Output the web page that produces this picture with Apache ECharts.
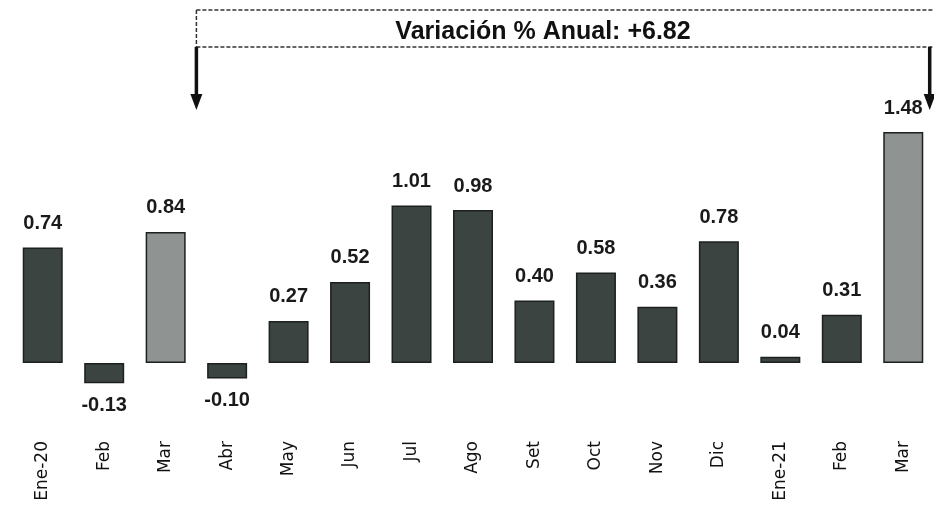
<!DOCTYPE html>
<html>
<head>
<meta charset="utf-8">
<script src="https://cdn.jsdelivr.net/npm/echarts@6/dist/echarts.min.js"></script>
<style>
  html, body { margin: 0; padding: 0; background: #fff; }
  #chart { width: 934px; height: 511px; }
</style>
</head>
<body>
<div id="chart"></div>
<script>
// meses
const months = ['Ene-20', 'Feb', 'Mar', 'Abr', 'May', 'Jun', 'Jul', 'Ago', 'Set', 'Oct', 'Nov', 'Dic', 'Ene-21', 'Feb', 'Mar'];
// variacion % mensual
const values = [0.74, -0.13, 0.84, -0.10, 0.27, 0.52, 1.01, 0.98, 0.40, 0.58, 0.36, 0.78, 0.04, 0.31, 1.48];
// meses de marzo en gris claro
const highlight = [2, 14];
const annualText = 'Variación % Anual: +6.82';

const dark = '#3c4442';
const light = '#8f9492';

const chart = echarts.init(document.getElementById('chart'));

const barData = values.map((v, i) => ({
  value: v,
  itemStyle: {
    color: highlight.includes(i) ? light : dark,
    borderColor: '#1c2020',
    borderWidth: 1.5
  },
  label: { position: v < 0 ? 'bottom' : 'top', distance: v < 0 ? 12 : 14 }
}));

chart.setOption({
  animation: false,
  grid: { left: 12, right: -2, top: 129, bottom: 70 },
  xAxis: {
    type: 'category',
    data: months,
    axisLine: { show: false },
    axisTick: { show: false },
    axisLabel: {
      rotate: 90,
      margin: 0,
      interval: 0,
      color: '#111',
      fontFamily: 'DejaVu Sans',
      fontSize: 17
    }
  },
  yAxis: {
    type: 'value',
    min: -0.5,
    max: 1.5,
    show: false,
    splitLine: { show: false }
  },
  series: [{
    type: 'bar',
    data: barData,
    barWidth: 40,
    label: {
      show: true,
      color: '#1a1a1a',
      fontFamily: 'Liberation Sans',
      fontWeight: 'bold',
      fontSize: 20,
      formatter: p => p.value.toFixed(2)
    }
  }]
});

// anotacion de variacion anual
const px = i => chart.convertToPixel({ xAxisIndex: 0 }, i);
const band = px(1) - px(0);
const xl = px(2) + band / 2;
const xr = px(14) + band * 0.43;
const boxTop = 10, boxBot = 47, tipY = 110;

function arrow(x) {
  return [
    { type: 'line', shape: { x1: x, y1: boxBot, x2: x, y2: tipY - 14 }, style: { stroke: '#111', lineWidth: 3.5 } },
    { type: 'polygon', shape: { points: [[x - 6, tipY - 16], [x + 6, tipY - 16], [x, tipY]] }, style: { fill: '#111' } }
  ];
}

chart.setOption({
  graphic: [
    { type: 'line', shape: { x1: xl, y1: boxTop, x2: 934, y2: boxTop }, style: { stroke: '#333', lineWidth: 1.5, lineDash: [4, 2] } },
    { type: 'line', shape: { x1: xl, y1: boxBot, x2: 934, y2: boxBot }, style: { stroke: '#333', lineWidth: 1.5, lineDash: [4, 2] } },
    { type: 'line', shape: { x1: xl, y1: boxTop, x2: xl, y2: boxBot }, style: { stroke: '#333', lineWidth: 1.5, lineDash: [4, 2] } },
    {
      type: 'text',
      x: 543, y: 32,
      style: {
        text: annualText,
        fill: '#111',
        font: 'bold 25px "Liberation Sans", Arial',
        align: 'center',
        verticalAlign: 'middle'
      }
    },
    ...arrow(xl),
    ...arrow(xr)
  ]
});
</script>
</body>
</html>
